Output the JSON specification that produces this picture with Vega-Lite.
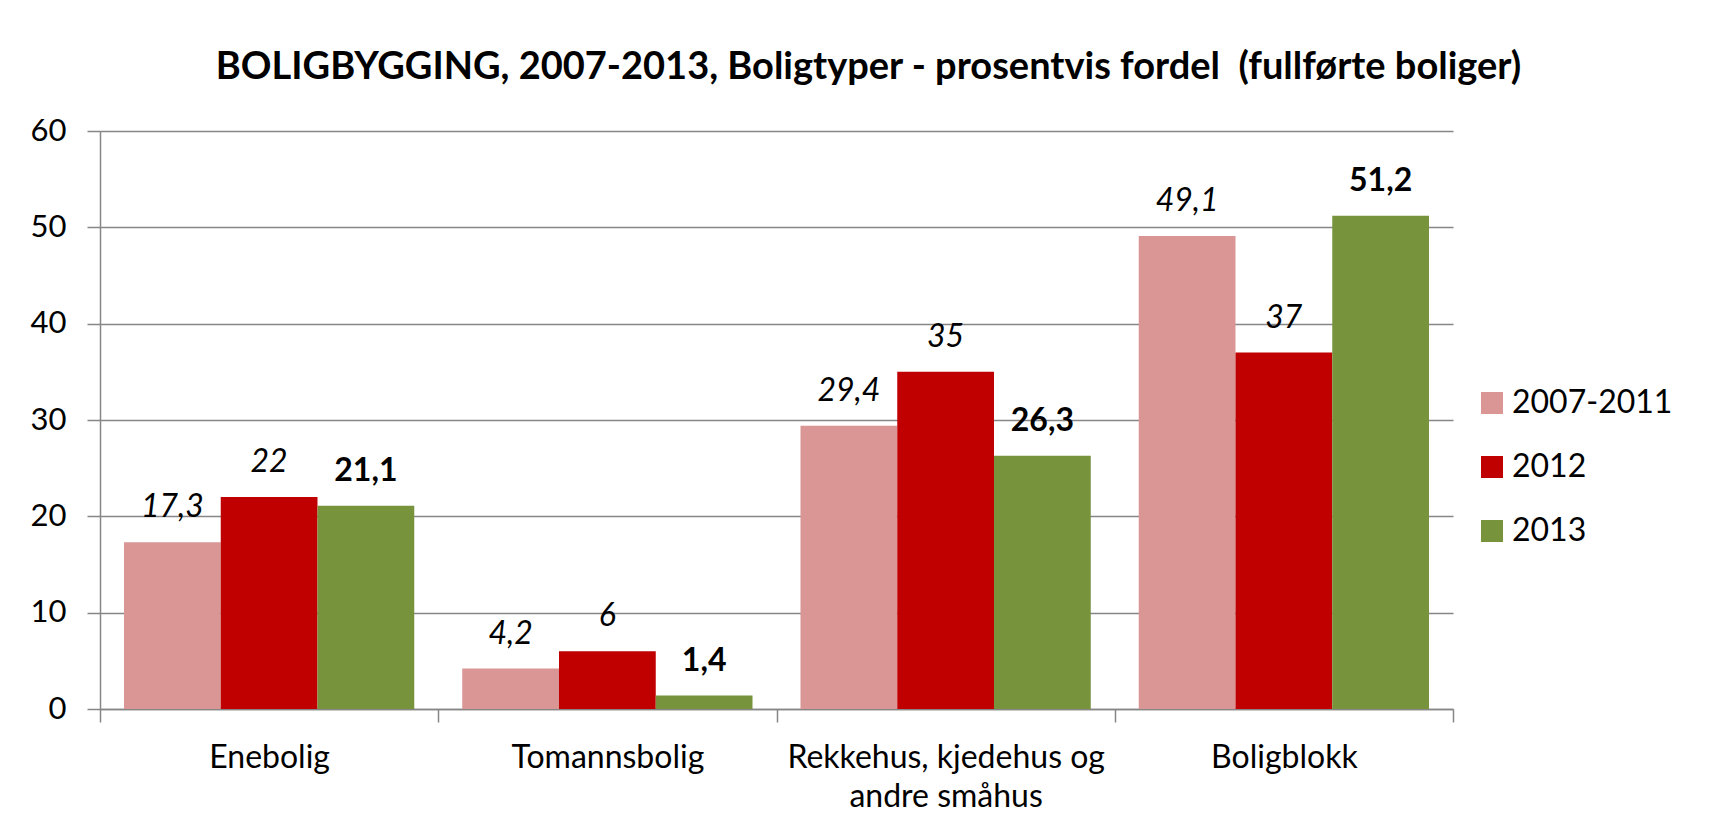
{
  "$schema": "https://vega.github.io/schema/vega-lite/v6.json",
  "width": 1353,
  "height": 578,
  "autosize": {"type": "none"},
  "padding": {"left": 100, "top": 131, "right": 264, "bottom": 129},
  "background": "white",
  "config": {
    "font": "Lato",
    "view": {"stroke": null},
    "locale": {"number": {"decimal": ",", "thousands": " ", "grouping": [3], "currency": ["", " kr"]}}
  },
  "title": {
    "text": "BOLIGBYGGING, 2007-2013, Boligtyper - prosentvis fordel \u00a0(fullførte boliger)",
    "font": "Lato",
    "fontSize": 38,
    "fontWeight": "bold",
    "color": "#000000",
    "anchor": "middle",
    "frame": "group",
    "baseline": "alphabetic",
    "dx": 92,
    "offset": -2
  },
  "data": {
    "values": [
      {"type": "Enebolig", "period": "2007-2011", "value": 17.3},
      {"type": "Enebolig", "period": "2012", "value": 22},
      {"type": "Enebolig", "period": "2013", "value": 21.1},
      {"type": "Tomannsbolig", "period": "2007-2011", "value": 4.2},
      {"type": "Tomannsbolig", "period": "2012", "value": 6},
      {"type": "Tomannsbolig", "period": "2013", "value": 1.4},
      {"type": "Rekkehus, kjedehus og andre småhus", "period": "2007-2011", "value": 29.4},
      {"type": "Rekkehus, kjedehus og andre småhus", "period": "2012", "value": 35},
      {"type": "Rekkehus, kjedehus og andre småhus", "period": "2013", "value": 26.3},
      {"type": "Boligblokk", "period": "2007-2011", "value": 49.1},
      {"type": "Boligblokk", "period": "2012", "value": 37},
      {"type": "Boligblokk", "period": "2013", "value": 51.2}
    ]
  },
  "encoding": {
    "x": {
      "field": "type",
      "type": "nominal",
      "sort": ["Enebolig", "Tomannsbolig", "Rekkehus, kjedehus og andre småhus", "Boligblokk"],
      "scale": {"paddingInner": 0, "paddingOuter": 0},
      "axis": {
        "title": null,
        "labelAngle": 0,
        "labelFont": "Lato",
        "labelFontSize": 32,
        "labelColor": "#000000",
        "labelPadding": 20,
        "labelLineHeight": 39,
        "labelLimit": 0,
        "labelExpr": "datum.label == 'Rekkehus, kjedehus og andre småhus' ? ['Rekkehus, kjedehus og', 'andre småhus'] : datum.label",
        "tickBand": "extent",
        "tickSize": 13,
        "tickColor": "#868686",
        "tickWidth": 1.5,
        "domainColor": "#868686",
        "domainWidth": 1.5,
        "grid": false
      }
    },
    "xOffset": {
      "field": "period",
      "type": "nominal",
      "scale": {"domain": ["2007-2011", "2012", "2013"], "paddingInner": 0, "paddingOuter": 0.248}
    },
    "y": {
      "field": "value",
      "type": "quantitative",
      "scale": {"domain": [0, 60], "nice": false},
      "axis": {
        "title": null,
        "values": [0, 10, 20, 30, 40, 50, 60],
        "labelFont": "Lato",
        "labelFontSize": 31,
        "labelColor": "#000000",
        "labelPadding": 21,
        "tickSize": 13,
        "tickColor": "#868686",
        "tickWidth": 1.5,
        "domainColor": "#868686",
        "domainWidth": 1.5,
        "grid": true,
        "gridColor": "#868686",
        "gridWidth": 1.5
      }
    }
  },
  "layer": [
    {
      "mark": {"type": "bar"},
      "encoding": {
        "color": {
          "field": "period",
          "type": "nominal",
          "scale": {"domain": ["2007-2011", "2012", "2013"], "range": ["#D99694", "#C00000", "#77933C"]},
          "legend": {
            "title": null,
            "orient": "none",
            "legendX": 1376,
            "legendY": 256,
            "symbolType": "square",
            "symbolSize": 484,
            "symbolStrokeWidth": 0,
            "labelFont": "Lato",
            "labelFontSize": 32,
            "labelColor": "#000000",
            "labelOffset": 4,
            "labelLimit": 0,
            "rowPadding": 32,
            "padding": 0
          }
        }
      }
    },
    {
      "transform": [{"filter": "datum.period != '2013'"}],
      "mark": {"type": "text", "fontStyle": "italic", "fontSize": 32, "font": "Lato", "baseline": "alphabetic", "dy": -25, "color": "#000000"},
      "encoding": {"text": {"field": "value", "type": "quantitative", "format": ".3~g"}}
    },
    {
      "transform": [{"filter": "datum.period == '2013'"}],
      "mark": {"type": "text", "fontWeight": "bold", "fontSize": 32, "font": "Lato", "baseline": "alphabetic", "dy": -25, "color": "#000000"},
      "encoding": {"text": {"field": "value", "type": "quantitative", "format": ".3~g"}}
    }
  ]
}
